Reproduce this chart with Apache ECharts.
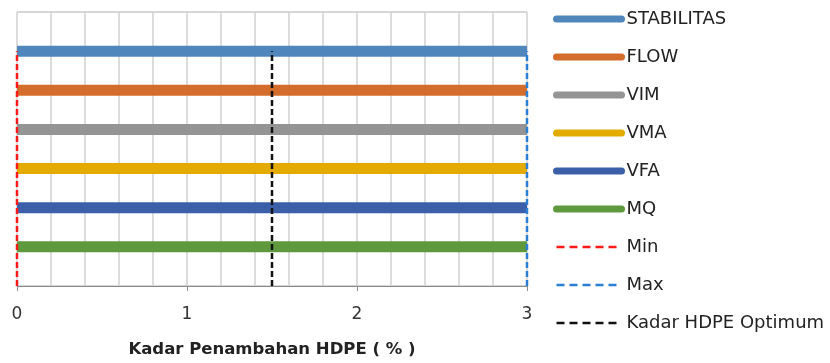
<!DOCTYPE html>
<html>
<head>
<meta charset="utf-8">
<script src="https://cdn.jsdelivr.net/npm/echarts@6/dist/echarts.min.js"></script>
<style>
  html, body { margin: 0; padding: 0; background: #fff; }
  #chart { width: 830px; height: 363px; }
</style>
</head>
<body>
<div id="chart"></div>
<script>
// Marshall parameters: each property's valid HDPE range drawn as a horizontal band
const seriesNames = ['STABILITAS', 'FLOW', 'VIM', 'VMA', 'VFA', 'MQ'];
const seriesLevels = [6, 5, 4, 3, 2, 1];          // vertical slot of each property
const rangeStart = [0, 0, 0, 0, 0, 0];            // HDPE % where each range begins
const rangeEnd = [3, 3, 3, 3, 3, 3];              // HDPE % where each range ends
const seriesColors = ['#4f87bd', '#d46d2b', '#949494', '#e3ab00', '#3b60a9', '#5f993d'];

// Reference lines (HDPE %)
const minLevel = 0;
const maxLevel = 3;
const optimumLevel = 1.5;
const refTop = 6;            // reference lines run from 0 up to this slot
const refNames = ['Min', 'Max', 'Kadar HDPE Optimum'];
const refColors = ['#ff1a1a', '#2a7fd4', '#111111'];

const xTicks = [0, 1, 2, 3];

const FONT = 'DejaVu Sans';

const chart = echarts.init(document.getElementById('chart'), null, { renderer: 'canvas' });

const series = [];
seriesNames.forEach((name, i) => {
  series.push({
    name: name,
    type: 'line',
    data: [[rangeStart[i], seriesLevels[i]], [rangeEnd[i], seriesLevels[i]]],
    symbol: 'none',
    clip: false,
    z: 3,
    lineStyle: { color: seriesColors[i], width: 11, cap: 'butt' },
    itemStyle: { color: seriesColors[i] }
  });
});
const refX = [minLevel, maxLevel, optimumLevel];
refNames.forEach((name, i) => {
  series.push({
    name: name,
    type: 'line',
    data: [[refX[i], 0], [refX[i], refTop]],
    symbol: 'none',
    clip: false,
    z: 4,
    lineStyle: { color: refColors[i], width: 2.5, type: [6, 3] },
    itemStyle: { color: refColors[i] }
  });
});

const legendData = seriesNames.map((n, i) => ({
  name: n,
  itemStyle: { opacity: 0 },
  lineStyle: { width: 7, cap: 'round', color: seriesColors[i] }
})).concat(refNames.map((n, i) => ({
  name: n,
  itemStyle: { opacity: 0 },
  lineStyle: { width: 2.5, type: [8, 5], color: refColors[i] }
})));

chart.setOption({
  animation: false,
  backgroundColor: '#ffffff',
  grid: { left: 17, right: 303, top: 12, bottom: 76, containLabel: false },
  legend: {
    orient: 'vertical',
    left: 553,
    top: 10,
    padding: 0,
    itemWidth: 65,
    itemHeight: 18,
    itemGap: 20,
    data: legendData,
    textStyle: { fontFamily: FONT, fontSize: 18, lineHeight: 18, color: '#222' },
    selectedMode: false
  },
  xAxis: [
    {
      type: 'value',
      min: 0, max: 3, interval: 0.2,
      axisLine: { show: true, lineStyle: { color: '#8a8a8a', width: 1 } },
      axisTick: { show: false },
      axisLabel: { show: false },
      splitLine: { show: true, lineStyle: { color: '#d0d0d0', width: 1.5 } }
    },
    {
      type: 'value',
      position: 'bottom',
      min: 0, max: 3, interval: 1,
      axisLine: { show: false },
      axisTick: { show: true, length: 5, inside: false, lineStyle: { color: '#8a8a8a' } },
      axisLabel: {
        margin: 20,
        fontFamily: FONT, fontSize: 17, color: '#333',
        formatter: v => xTicks.indexOf(Math.round(v)) >= 0 ? String(Math.round(v)) : ''
      },
      splitLine: { show: false },
      name: 'Kadar Penambahan HDPE ( % )',
      nameLocation: 'middle',
      nameGap: 55,
      nameTextStyle: { fontFamily: FONT, fontSize: 16.5, fontWeight: 'bold', color: '#222' }
    }
  ],
  yAxis: {
    type: 'value',
    min: 0, max: 7, interval: 7,
    axisLine: { show: false },
    axisTick: { show: false },
    axisLabel: { show: false },
    splitLine: { show: true, lineStyle: { color: '#c8c8c8', width: 1.5 } }
  },
  series: series
});
</script>
</body>
</html>
